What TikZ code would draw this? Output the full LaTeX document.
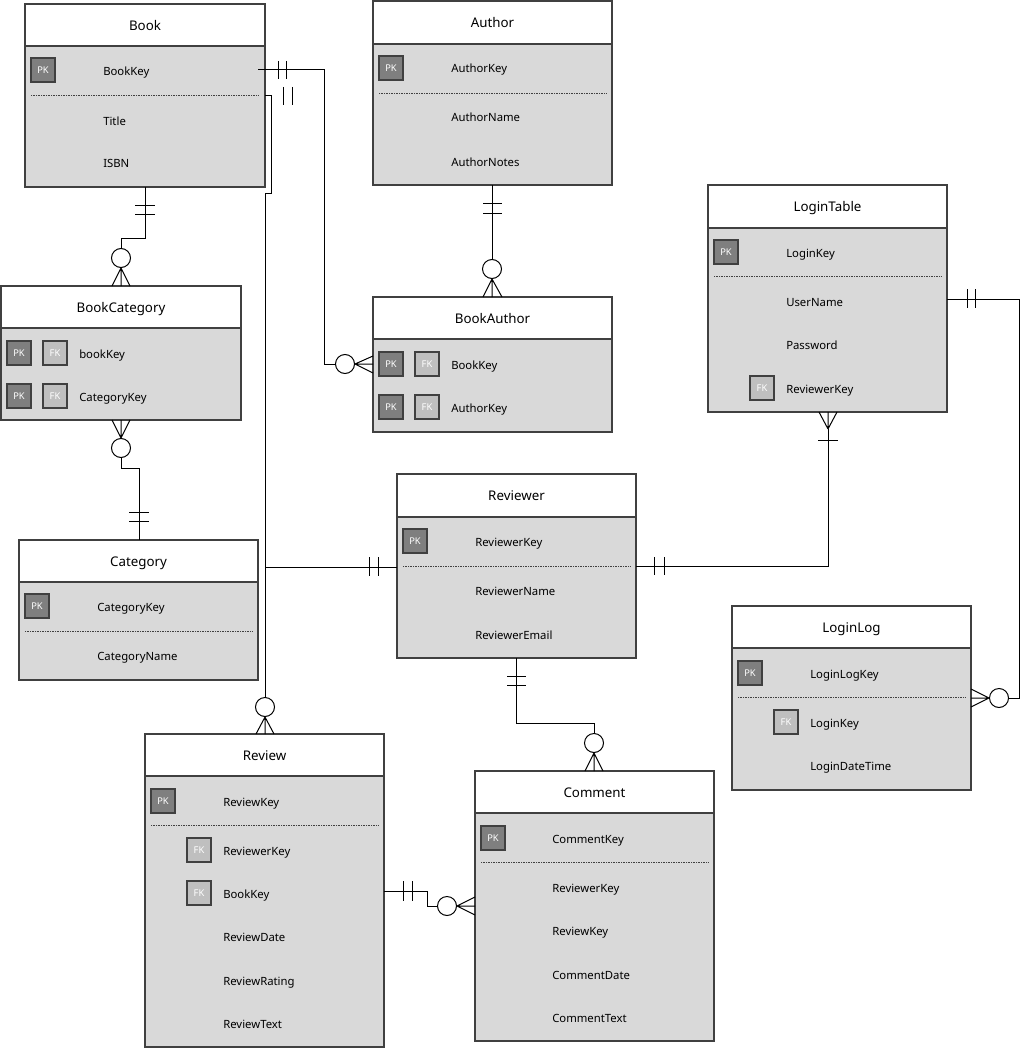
\documentclass[tikz,border=0pt]{standalone}
\usepackage{fontspec}
\setmainfont{Noto Sans}
\definecolor{bodyc}{HTML}{D9D9D9}
\definecolor{bordc}{HTML}{404040}
\definecolor{pkc}{HTML}{7F7F7F}
\definecolor{fkc}{HTML}{BFBFBF}
\newcommand\ertable[7]{%
  \node[tbody, minimum width={(#4-#2)*0.75pt}, minimum height={(#5-#6)*0.75pt}] (#1) at ({(#2+#4)/2},{(#6+#5)/2}) {};
  \node[thead, minimum width={(#4-#2)*0.75pt}, minimum height={(#6-#3)*0.75pt}] (#1-h) at ({(#2+#4)/2},{(#3+#6)/2}) {};
  \node[ttitle] (#1-t) at ({(#2+#4)/2},{(#3+#6)/2+1.5}) {#7};
}
\begin{document}
\begin{tikzpicture}[x=0.75pt,y=-0.75pt,
  tbody/.style={draw=bordc, fill=bodyc, line width=0.9pt, inner sep=0pt, outer sep=0pt},
  thead/.style={draw=bordc, fill=white, line width=0.9pt, inner sep=0pt, outer sep=0pt},
  ttitle/.style={inner sep=0pt, text height=7.5pt, text depth=2pt, font=\fontsize{10}{12}\selectfont},
  attr/.style={anchor=west, inner sep=0pt, yshift=-1.4pt, text height=6.5pt, text depth=1.8pt, font=\fontsize{8.5}{10}\selectfont},
  pk/.style={draw=bordc, fill=pkc, text=white, minimum size=18pt, inner sep=0pt, font=\fontsize{7}{8}\selectfont, line width=0.9pt},
  fk/.style={pk, fill=fkc},
  sep/.style={draw=bordc, line width=0.6pt, dash pattern=on 0.75pt off 0.5pt},
  conn/.style={draw=black, line width=0.75pt},
  bar/.style={draw=black, line width=0.75pt},
  zero/.style={draw=black, fill=white, line width=0.75pt, circle, minimum size=14.25pt, inner sep=0pt},
]
\useasboundingbox (0,0) rectangle (1021,1049);

% ---------- Book
\ertable{book}{25}{4}{265}{187}{46}{Book}
\node[pk] (book-pk) at (43,70) {PK};
\node[attr] (book-a1) at (103,70) {BookKey};
\draw[sep] (31,95) -- (258,95);
\node[attr] (book-a2) at (103,120) {Title};
\node[attr] (book-a3) at (103,162) {ISBN};

% ---------- Author
\ertable{author}{373}{1}{612}{185}{44}{Author}
\node[pk] (author-pk) at (391,68) {PK};
\node[attr] (author-a1) at (451,68) {AuthorKey};
\draw[sep] (379,93) -- (606,93);
\node[attr] (author-a2) at (451,117) {AuthorName};
\node[attr] (author-a3) at (451,161) {AuthorNotes};

% ---------- LoginTable
\ertable{login}{708}{185}{947}{412}{228}{LoginTable}
\node[pk] (login-pk) at (726,252) {PK};
\node[attr] (login-a1) at (786,252) {LoginKey};
\draw[sep] (714,276) -- (941,276);
\node[attr] (login-a2) at (786,301) {UserName};
\node[attr] (login-a3) at (786,344) {Password};
\node[fk] (login-fk) at (762,388) {FK};
\node[attr] (login-a4) at (786,388) {ReviewerKey};

% ---------- BookCategory
\ertable{bookcat}{1}{286}{241}{420}{328}{BookCategory}
\node[pk] (bookcat-pk1) at (19,353) {PK};
\node[fk] (bookcat-fk1) at (55,353) {FK};
\node[attr] (bookcat-a1) at (79,353) {bookKey};
\node[pk] (bookcat-pk2) at (19,396) {PK};
\node[fk] (bookcat-fk2) at (55,396) {FK};
\node[attr] (bookcat-a2) at (79,396) {CategoryKey};

% ---------- BookAuthor
\ertable{bookauth}{373}{297}{612}{432}{339}{BookAuthor}
\node[pk] (bookauth-pk1) at (391,364) {PK};
\node[fk] (bookauth-fk1) at (427,364) {FK};
\node[attr] (bookauth-a1) at (451,364) {BookKey};
\node[pk] (bookauth-pk2) at (391,407) {PK};
\node[fk] (bookauth-fk2) at (427,407) {FK};
\node[attr] (bookauth-a2) at (451,407) {AuthorKey};

% ---------- Reviewer
\ertable{reviewer}{397}{474}{636}{658}{517}{Reviewer}
\node[pk] (reviewer-pk) at (415,541) {PK};
\node[attr] (reviewer-a1) at (475,541) {ReviewerKey};
\draw[sep] (403,566) -- (630,566);
\node[attr] (reviewer-a2) at (475,590) {ReviewerName};
\node[attr] (reviewer-a3) at (475,634) {ReviewerEmail};

% ---------- Category
\ertable{category}{19}{540}{258}{680}{582}{Category}
\node[pk] (category-pk) at (37,606) {PK};
\node[attr] (category-a1) at (97,606) {CategoryKey};
\draw[sep] (25,631) -- (252,631);
\node[attr] (category-a2) at (97,655) {CategoryName};

% ---------- LoginLog
\ertable{loginlog}{732}{606}{971}{790}{648}{LoginLog}
\node[pk] (loginlog-pk) at (750,673) {PK};
\node[attr] (loginlog-a1) at (810,673) {LoginLogKey};
\draw[sep] (738,697) -- (965,697);
\node[fk] (loginlog-fk) at (786,722) {FK};
\node[attr] (loginlog-a2) at (810,722) {LoginKey};
\node[attr] (loginlog-a3) at (810,765) {LoginDateTime};

% ---------- Review
\ertable{review}{145}{734}{384}{1047}{776}{Review}
\node[pk] (review-pk) at (163,801) {PK};
\node[attr] (review-a1) at (223,801) {ReviewKey};
\draw[sep] (151,825) -- (378,825);
\node[fk] (review-fk1) at (199,850) {FK};
\node[attr] (review-a2) at (223,850) {ReviewerKey};
\node[fk] (review-fk2) at (199,893) {FK};
\node[attr] (review-a3) at (223,893) {BookKey};
\node[attr] (review-a4) at (223,936) {ReviewDate};
\node[attr] (review-a5) at (223,980) {ReviewRating};
\node[attr] (review-a6) at (223,1023) {ReviewText};

% ---------- Comment
\ertable{comment}{475}{771}{714}{1041}{813}{Comment}
\node[pk] (comment-pk) at (493,838) {PK};
\node[attr] (comment-a1) at (552,838) {CommentKey};
\draw[sep] (481,862) -- (708,862);
\node[attr] (comment-a2) at (552,887) {ReviewerKey};
\node[attr] (comment-a3) at (552,930) {ReviewKey};
\node[attr] (comment-a4) at (552,974) {CommentDate};
\node[attr] (comment-a5) at (552,1017) {CommentText};

% ================= connectors
% Book -- BookCategory
\node[zero] (c1) at (121,258) {};
\draw[conn] (book.south -| 145,0) -- (145,238) -- (121,238) -- (c1.north);
\draw[bar] (135,205) -- (155,205) (135,214) -- (155,214);
\draw[conn] (c1.south) -- (112,286) (c1.south) -- (121,286) (c1.south) -- (130,286);

% BookCategory -- Category
\node[zero] (c2) at (121,448) {};
\draw[conn] (c2.south) -- (121,468) -- (139,468) -- (category-h.north -| 139,0);
\draw[bar] (129,512) -- (149,512) (129,521) -- (149,521);
\draw[conn] (c2.north) -- (112,420) (c2.north) -- (121,420) (c2.north) -- (130,420);

% Book -- BookAuthor
\node[zero] (c3) at (345,364) {};
\draw[conn] (258,70) -- (324,70) -- (324,364) -- (c3.west);
\draw[bar] (278,61) -- (278,79) (286,61) -- (286,79);
\draw[conn] (c3.east) -- (373,356) (c3.east) -- (373,364) (c3.east) -- (373,373);

% Author -- BookAuthor
\node[zero] (c4) at (492,269) {};
\draw[conn] (author.south -| 492,0) -- (c4.north);
\draw[bar] (483,203) -- (502,203) (483,213) -- (502,213);
\draw[conn] (c4.south) -- (483,297) (c4.south) -- (492,297) (c4.south) -- (502,297);

% Reviewer -- LoginTable
\coordinate (lt-apex) at (828,429);
\draw[conn] (reviewer.east |- 0,566) -- (828,566) -- (lt-apex);
\draw[conn] (lt-apex) -- (819,412) (lt-apex) -- (828,412) (lt-apex) -- (837,412);
\draw[bar] (818,440) -- (838,440);
\draw[bar] (654,557) -- (654,575) (664,557) -- (664,575);

% LoginTable -- LoginLog
\node[zero] (c6) at (999,698) {};
\draw[conn] (login.east |- 0,299) -- (1019,299) -- (1019,698) -- (c6.east);
\draw[bar] (967,289) -- (967,308) (975,289) -- (975,308);
\draw[conn] (c6.west) -- (971,689) (c6.west) -- (971,698) (c6.west) -- (971,707);

% Book -- Review and Reviewer -- Review
\node[zero] (c7) at (265,707) {};
\draw[conn] (265,96) -- (271,96) -- (271,193) -- (265,193) -- (c7.north);
\draw[bar] (283,87) -- (283,105) (292,87) -- (292,105);
\draw[conn] (reviewer.west |- 0,567) -- (265,567);
\draw[bar] (369,557) -- (369,576) (378,557) -- (378,576);
\draw[conn] (c7.south) -- (256,734) (c7.south) -- (265,734) (c7.south) -- (274,734);

% Reviewer -- Comment
\node[zero] (c9) at (594,743) {};
\draw[conn] (reviewer.south -| 516,0) -- (516,723) -- (594,723) -- (c9.north);
\draw[bar] (507,676) -- (526,676) (507,685) -- (526,685);
\draw[conn] (c9.south) -- (585,771) (c9.south) -- (594,771) (c9.south) -- (603,771);

% Review -- Comment
\node[zero] (c10) at (447,906) {};
\draw[conn] (review.east |- 0,891) -- (427,891) -- (427,906) -- (c10.west);
\draw[bar] (403,881) -- (403,901) (412,881) -- (412,901);
\draw[conn] (c10.east) -- (475,897) (c10.east) -- (475,906) (c10.east) -- (475,915);
\end{tikzpicture}
\end{document}
